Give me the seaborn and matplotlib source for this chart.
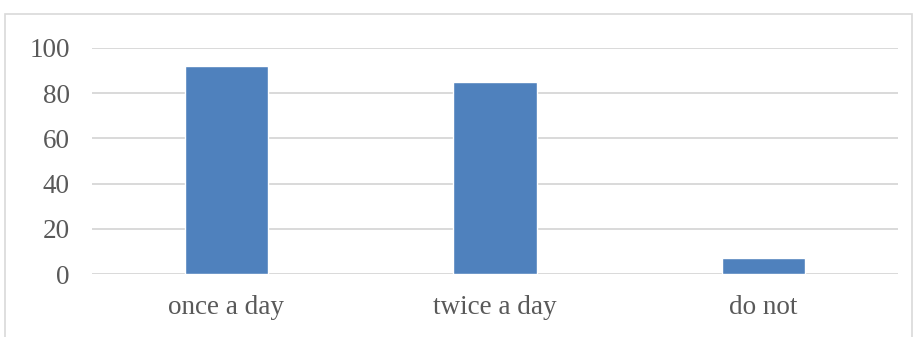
import matplotlib
matplotlib.use("Agg")
import matplotlib.pyplot as plt
import seaborn as sns
import pandas as pd
from matplotlib.patches import Rectangle

categories = ["once a day", "twice a day", "do not"]
values = [92, 85, 7.2]
yticks = [0, 20, 40, 60, 80, 100]

sns.set_theme(style="white")
plt.rcParams['font.family'] = ['Liberation Serif', 'DejaVu Serif']

df = pd.DataFrame({"category": categories, "value": values})

fig = plt.figure(figsize=(9.18, 3.37), dpi=100)
ax = fig.add_axes([92/918, 1-274/337, (898-92)/918, (274-48)/337])

ax.set_axisbelow(True)
for t in yticks:
    ax.axhline(t, color="#d9d9d9", linewidth=1.4, zorder=0)

sns.barplot(data=df, x="category", y="value", color="#4f81bd", saturation=1,
            width=0.31, ax=ax, zorder=2)

ax.set_ylim(0, 100)
ax.set_xlim(-0.5, 2.5)
ax.set_yticks(yticks)
ax.set_yticklabels([str(t) for t in yticks])
ax.set_xlabel("")
ax.set_ylabel("")
for s in ax.spines.values():
    s.set_visible(False)
ax.tick_params(axis="both", length=0, labelsize=19.5, colors="#595959")
ax.tick_params(axis="y", pad=16)
ax.tick_params(axis="x", pad=15)

fig.patches.append(Rectangle((5/918, -0.05), (912-5)/918, 1.05 - 14/337,
                             transform=fig.transFigure, fill=False,
                             edgecolor="#d9d9d9", linewidth=1.2))

fig.savefig("out.png", dpi=100, facecolor="white")
